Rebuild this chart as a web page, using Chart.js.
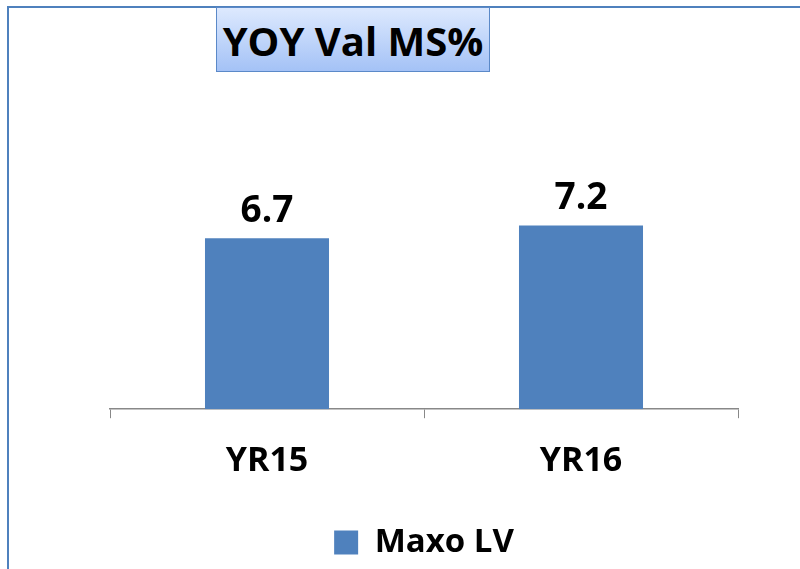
<!DOCTYPE html>
<html>
<head>
<meta charset="utf-8">
<script src="https://cdn.jsdelivr.net/npm/chart.js@4.4.1/dist/chart.umd.min.js"></script>
<style>
    html, body { margin: 0; padding: 0; background: #fff; }
    #wrap { position: relative; width: 800px; height: 569px; overflow: hidden; }
    #frame {
        position: absolute; left: 7px; top: 6px; width: 900px; height: 700px;
        border-left: 2px solid #4f81bd; border-top: 2px solid #4f81bd;
    }
    #titleBox {
        position: absolute; left: 216px; top: 7px; width: 272px; height: 63px;
        border: 1.5px solid #5b89c8;
        background: linear-gradient(#dde9fe, #a4c2f6);
        font-family: "Open Sans", sans-serif; font-weight: bold; font-size: 40px;
        line-height: 66px; text-align: center; color: #000;
    }
    canvas { position: absolute; left: 0; top: 0; }
</style>
</head>
<body>
<div id="wrap">
    <div id="frame"></div>
    <canvas id="chart" width="800" height="569"></canvas>
    <div id="titleBox">YOY Val MS%</div>
</div>
<script>
const categories = ["YR15", "YR16"];
const seriesName = "Maxo LV";
const values = [6.7, 7.2];

const BAR_COLOR = "#4f81bd";
const FONT = "'Open Sans', sans-serif";

// Wertebeschriftung über den Balken
const valueLabels = {
    id: "valueLabels",
    afterDatasetsDraw(chart) {
        const ctx = chart.ctx;
        const meta = chart.getDatasetMeta(0);
        ctx.save();
        ctx.font = "bold 37px " + FONT;
        ctx.fillStyle = "#000";
        ctx.textAlign = "center";
        ctx.textBaseline = "alphabetic";
        meta.data.forEach((bar, i) => {
            ctx.fillText(values[i].toFixed(1), bar.x, bar.y - 16);
        });
        ctx.restore();
    }
};

new Chart(document.getElementById("chart"), {
    type: "bar",
    data: {
        labels: categories,
        datasets: [{
            label: seriesName,
            data: values,
            backgroundColor: BAR_COLOR,
            borderWidth: 0,
            barPercentage: 0.395,
            categoryPercentage: 1
        }]
    },
    options: {
        responsive: false,
        animation: false,
        layout: { padding: { left: 110, right: 62, top: 205, bottom: 0 } },
        scales: {
            x: {
                offset: true,
                grid: {
                    offset: true,
                    drawOnChartArea: false,
                    drawTicks: true,
                    tickLength: 9,
                    color: "#888"
                },
                border: { display: true, color: "#888", width: 1.5 },
                ticks: {
                    color: "#000",
                    padding: 23,
                    font: { family: FONT, size: 34, weight: "bold" }
                },
                // zusätzlicher Abstand zwischen Achsenbeschriftung und Legende
                afterFit(scale) { scale.height += 12; }
            },
            y: {
                display: false,
                min: 0,
                max: 8
            }
        },
        plugins: {
            legend: {
                position: "bottom",
                labels: {
                    color: "#000",
                    boxWidth: 24,
                    boxHeight: 24,
                    padding: 9,
                    font: { family: FONT, size: 33, weight: "bold" }
                }
            },
            tooltip: { enabled: false }
        }
    },
    plugins: [valueLabels]
});
</script>
</body>
</html>
